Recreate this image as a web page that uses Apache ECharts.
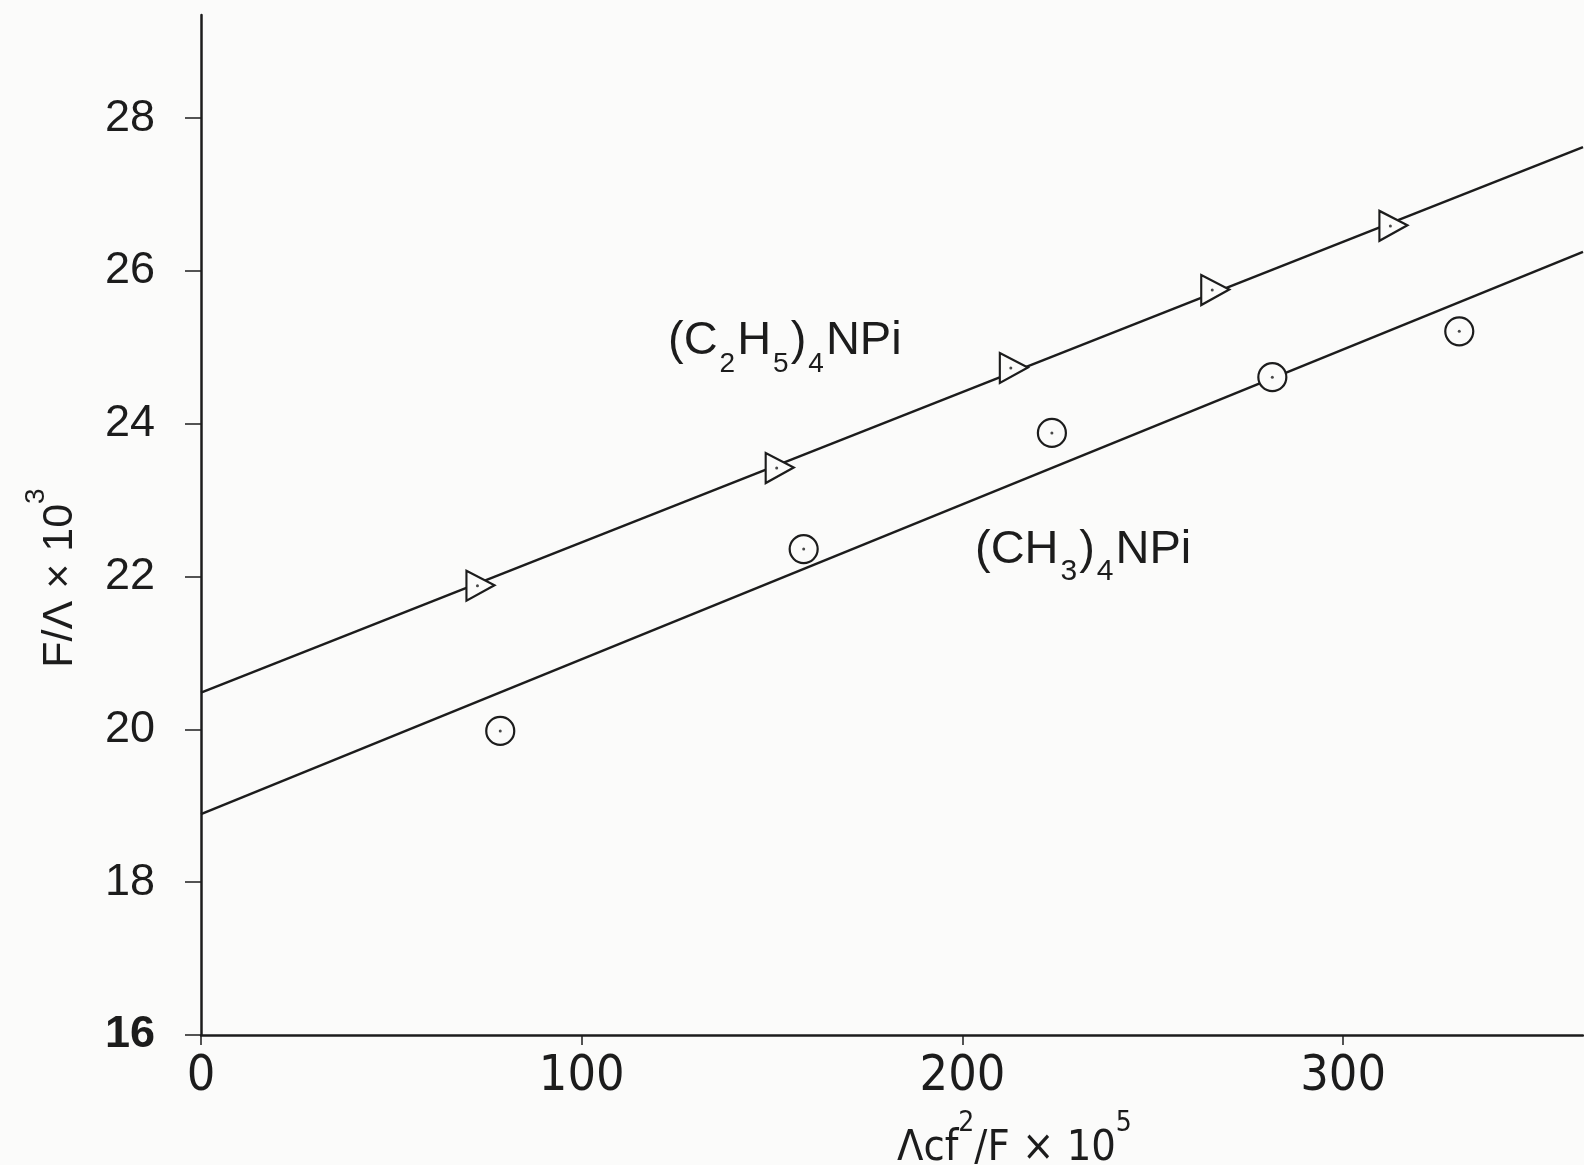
<!DOCTYPE html>
<html>
<head>
<meta charset="utf-8">
<script src="https://cdn.jsdelivr.net/npm/echarts@6/dist/echarts.min.js"></script>
<style>
html,body{margin:0;padding:0;background:#fbfbfa;}
#chart{width:1584px;height:1165px;}
</style>
</head>
<body>
<div id="chart"></div>
<script>
// ---- data ----
var xTicks = [0, 100, 200, 300];
var yTicks = [16, 18, 20, 22, 24, 26, 28];

// (C2H5)4NPi : triangles
var ethylX = [73.4, 152.0, 213.5, 266.4, 313.2];
var ethylY = [21.88, 23.42, 24.73, 25.75, 26.59];
// (CH3)4NPi : circles
var methylX = [78.6, 158.3, 223.5, 281.4, 330.5];
var methylY = [19.98, 22.36, 23.88, 24.61, 25.21];

// fitted straight lines (end points)
var ethylLineX = [0, 363];
var ethylLineY = [20.48, 27.62];
var methylLineX = [0, 363];
var methylLineY = [18.89, 26.25];

function pairs(xs, ys) { return xs.map(function (x, i) { return [x, ys[i]]; }); }

var ink = '#1c1c1c';
var bg = '#fbfbfa';
var narrow = "'Liberation Sans Narrow','DejaVu Sans Condensed','Liberation Sans',sans-serif";
var sans = "'Liberation Sans','DejaVu Sans',sans-serif";

function supRich(fam, big, small) {
  return {
    m: {fontFamily: fam, fontSize: big, lineHeight: 60, fill: ink, color: ink, verticalAlign: 'bottom'},
    u: {fontFamily: fam, fontSize: small, lineHeight: 28, fill: ink, color: ink, verticalAlign: 'top'}
  };
}
function subRich(fam, big, small) {
  return {
    a: {fontFamily: fam, fontSize: big, lineHeight: 60, fill: ink, color: ink, verticalAlign: 'top'},
    s: {fontFamily: fam, fontSize: small, lineHeight: 24, fill: ink, color: ink, verticalAlign: 'bottom', padding: [0, 2, 0, 2]}
  };
}

var chart = echarts.init(document.getElementById('chart'), null, {renderer: 'canvas'});

var option = {
  backgroundColor: bg,
  animation: false,
  grid: {left: 201, right: 1, top: 15, bottom: 130, containLabel: false},
  xAxis: {
    type: 'value', min: 0, max: 363,
    axisLine: {lineStyle: {color: ink, width: 2.5}},
    axisTick: {show: true, length: 10, customValues: xTicks, lineStyle: {color: ink, width: 1.5}},
    axisLabel: {customValues: xTicks, color: ink, fontFamily: narrow, fontSize: 50, margin: 17},
    splitLine: {show: false}
  },
  yAxis: {
    type: 'value', min: 16, max: 29.35,
    axisLine: {lineStyle: {color: ink, width: 2.5}},
    axisTick: {show: true, length: 16, customValues: yTicks, lineStyle: {color: ink, width: 1.5}},
    axisLabel: {
      customValues: yTicks, margin: 46, color: ink, fontFamily: sans, fontSize: 45,
      formatter: function (v) { return v === 16 ? '{b|16}' : String(v); },
      rich: {b: {fontFamily: sans, fontSize: 45, fontWeight: 'bold', color: ink}}
    },
    splitLine: {show: false}
  },
  graphic: [
    { // y axis title
      type: 'text', x: 52, y: 578, rotation: Math.PI / 2, silent: true,
      style: {
        text: '{m|F/\u039B \u00D7 10}{u|3}', align: 'center', verticalAlign: 'middle',
        rich: supRich(sans, 43, 28)
      }
    },
    { // x axis title
      type: 'text', left: 897, top: 1110, silent: true,
      style: {
        text: '{m|\u039Bcf}{u|2}{m|/F \u00D7 10}{u|5}',
        rich: supRich(narrow, 43, 28)
      }
    },
    {
      type: 'text', left: 668, top: 318, silent: true,
      style: {
        text: '{a|(C}{s|2}{a|H}{s|5}{a|)}{s|4}{a|NPi}',
        rich: subRich(sans, 47, 28)
      }
    },
    {
      type: 'text', left: 975, top: 527, silent: true,
      style: {
        text: '{a|(CH}{s|3}{a|)}{s|4}{a|NPi}',
        rich: subRich(sans, 47, 30)
      }
    }
  ],
  series: [
    {
      type: 'line', data: pairs(ethylLineX, ethylLineY), showSymbol: false, z: 2,
      lineStyle: {color: ink, width: 2.5}
    },
    {
      type: 'line', data: pairs(methylLineX, methylLineY), showSymbol: false, z: 2,
      lineStyle: {color: ink, width: 2.5}
    },
    {
      type: 'scatter', data: pairs(ethylX, ethylY), z: 3,
      symbol: 'path://M0,0 L26,13 L0,27 Z', symbolSize: [28, 30],
      itemStyle: {color: bg, borderColor: ink, borderWidth: 2.2, opacity: 1}
    },
    {
      type: 'scatter', data: pairs(methylX, methylY), z: 3,
      symbol: 'circle', symbolSize: 28,
      itemStyle: {color: bg, borderColor: ink, borderWidth: 2.2, opacity: 1}
    },
    {
      type: 'scatter', data: pairs(ethylX, ethylY), z: 4, symbol: 'circle', symbolSize: 3,
      symbolOffset: [-3, 0],
      itemStyle: {color: ink}
    },
    {
      type: 'scatter', data: pairs(methylX, methylY), z: 4, symbol: 'circle', symbolSize: 3,
      itemStyle: {color: ink}
    }
  ]
};
chart.setOption(option);
</script>
</body>
</html>
